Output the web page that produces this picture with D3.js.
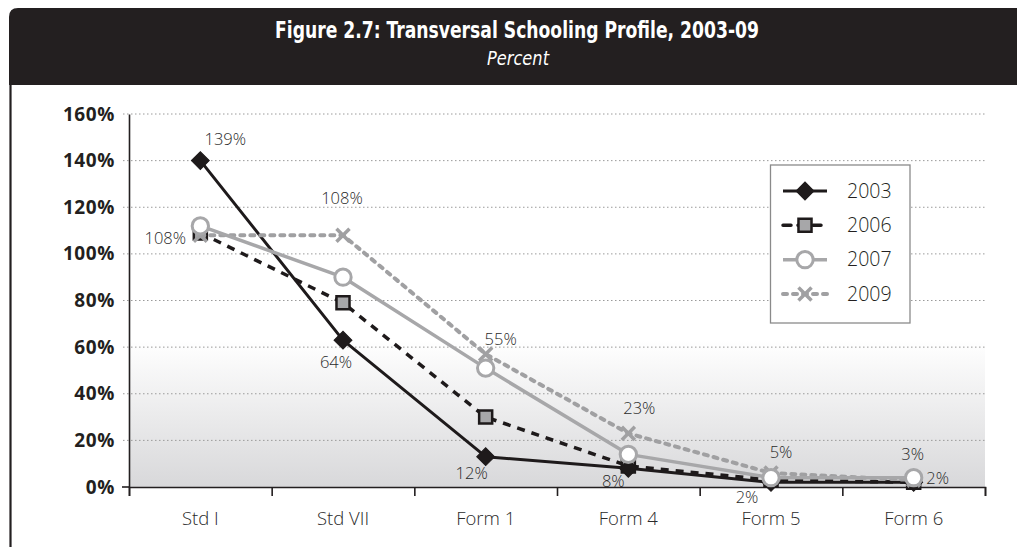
<!DOCTYPE html>
<html>
<head>
<meta charset="utf-8">
<script src="https://cdn.jsdelivr.net/npm/d3@7"></script>
<style>
  body { margin: 0; background: #fff; }
  svg { display: block; }
</style>
</head>
<body>
<svg id="chart" width="1017" height="547"></svg>
<script>
// chart data
var categories = ["Std I", "Std VII", "Form 1", "Form 4", "Form 5", "Form 6"];
var years = ["2003", "2006", "2007", "2009"];
var s2003 = [1.40, 0.63, 0.13, 0.08, 0.02, 0.02];
var s2006 = [1.09, 0.79, 0.30, 0.09, 0.03, 0.02];
var s2007 = [1.12, 0.90, 0.51, 0.14, 0.04, 0.04];
var s2009 = [1.08, 1.08, 0.57, 0.23, 0.06, 0.03];
var yTicks = [0, 0.2, 0.4, 0.6, 0.8, 1.0, 1.2, 1.4, 1.6];

// data labels shown on the chart (series, category index, text)
var labelSeries = ["2003", "2009", "2009", "2003", "2003", "2009", "2009", "2003", "2009", "2003", "2009", "2003"];
var labelIndex  = [0, 0, 1, 1, 2, 2, 3, 3, 4, 4, 5, 5];
var labelText   = ["139%", "108%", "108%", "64%", "12%", "55%", "23%", "8%", "5%", "2%", "3%", "2%"];

// where each label sits relative to its marker
var labelOffset = [[25, -21], [-35, 3], [-1, -37], [-7, 22], [-14, 17], [15, -15],
                   [11, -25], [-15, 13], [10, -21], [-24, 15], [-1, -26], [24, -4]];

var seriesValues = { "2003": s2003, "2006": s2006, "2007": s2007, "2009": s2009 };

var plot = { left: 129, right: 985, top: 114, bottom: 487 };

var svg = d3.select("#chart");

var x = d3.scaleBand().domain(categories).range([plot.left, plot.right]);
var y = d3.scaleLinear().domain([0, 1.6]).range([plot.bottom, plot.top]);
function cx(i) { return x(categories[i]) + x.bandwidth() / 2; }

// header bar
var hdr = d3.path();
hdr.moveTo(9, 85);
hdr.lineTo(9, 17);
hdr.quadraticCurveTo(9, 8, 18, 8);
hdr.lineTo(1017, 8);
hdr.lineTo(1017, 85);
hdr.closePath();
svg.append("path").attr("d", hdr.toString()).attr("fill", "#231f20");

svg.append("line")
  .attr("x1", 10.5).attr("x2", 10.5).attr("y1", 85).attr("y2", 547)
  .attr("stroke", "#231f20").attr("stroke-width", 2.2);

svg.append("text")
  .attr("x", 517).attr("y", 38)
  .attr("text-anchor", "middle")
  .attr("textLength", 484).attr("lengthAdjust", "spacingAndGlyphs")
  .style("font-family", "'Liberation Sans Narrow', 'DejaVu Sans Condensed', sans-serif")
  .style("font-weight", "bold").style("font-size", "23px")
  .attr("fill", "#fff")
  .text("Figure 2.7: Transversal Schooling Profile, 2003-09");

svg.append("text")
  .attr("x", 518).attr("y", 65)
  .attr("text-anchor", "middle")
  .attr("textLength", 62).attr("lengthAdjust", "spacingAndGlyphs")
  .style("font-family", "'Liberation Sans Narrow', 'DejaVu Sans Condensed', sans-serif")
  .style("font-style", "italic").style("font-size", "20px")
  .attr("fill", "#fff")
  .text("Percent");

// gradient in lower part of plot
var defs = svg.append("defs");
var grad = defs.append("linearGradient").attr("id", "shade")
  .attr("x1", 0).attr("x2", 0).attr("y1", 0).attr("y2", 1);
grad.append("stop").attr("offset", "0%").attr("stop-color", "#ffffff");
grad.append("stop").attr("offset", "100%").attr("stop-color", "#d8d8da");

svg.append("rect")
  .attr("x", plot.left).attr("width", plot.right - plot.left)
  .attr("y", y(0.63)).attr("height", y(0) - y(0.63))
  .attr("fill", "url(#shade)");

// gridlines
svg.append("g").selectAll("line")
  .data(yTicks.filter(function(d) { return d > 0; }))
  .enter().append("line")
  .attr("x1", plot.left - 6).attr("x2", plot.right)
  .attr("y1", function(d) { return y(d); })
  .attr("y2", function(d) { return y(d); })
  .attr("stroke", "#9a9a9a").attr("stroke-width", 1)
  .attr("stroke-dasharray", "1.5,2.5");

// y axis
var yAxis = svg.append("g")
  .attr("transform", "translate(" + plot.left + ",0)")
  .call(d3.axisLeft(y).tickValues(yTicks).tickFormat(d3.format(".0%")).tickSize(0).tickPadding(14));
yAxis.select(".domain").attr("stroke", "#231f20").attr("stroke-width", 1.6);
yAxis.selectAll("text")
  .style("font-family", "'Open Sans', sans-serif")
  .style("font-weight", "bold").style("font-size", "19px")
  .style("letter-spacing", "0.6px")
  .attr("fill", "#231f20");

// x axis boundary ticks
var xb = d3.scaleLinear().domain([0, categories.length]).range([plot.left, plot.right]);
var xTicks = svg.append("g")
  .attr("transform", "translate(0," + plot.bottom + ")")
  .call(d3.axisBottom(xb).ticks(categories.length).tickSize(9).tickFormat(""));
xTicks.select(".domain").attr("stroke", "#231f20").attr("stroke-width", 1.6);
xTicks.selectAll(".tick line").attr("stroke", "#231f20").attr("stroke-width", 1.6);

svg.append("line")
  .attr("x1", plot.left - 7).attr("x2", plot.left)
  .attr("y1", plot.bottom).attr("y2", plot.bottom)
  .attr("stroke", "#231f20").attr("stroke-width", 1.6);

// x axis labels
var xAxis = svg.append("g")
  .attr("transform", "translate(0," + plot.bottom + ")")
  .call(d3.axisBottom(x).tickSize(0).tickPadding(25));
xAxis.select(".domain").remove();
xAxis.selectAll("text")
  .style("font-family", "'Open Sans', sans-serif")
  .style("font-weight", "300")
  .style("font-size", "18.5px")
  .attr("fill", "#2a2a2a");

// series styles
var crossSymbol = {
  draw: function(ctx, size) {
    var r = Math.sqrt(size) / 2;
    ctx.moveTo(-r, -r); ctx.lineTo(r, r);
    ctx.moveTo(-r, r); ctx.lineTo(r, -r);
  }
};

var styles = {
  "2003": { stroke: "#1e1a1b", width: 3, dash: null, cap: "butt",
            sym: d3.symbolSquare, size: 160, rot: 45, fill: "#1e1a1b", mstroke: "#1e1a1b", mwidth: 1 },
  "2006": { stroke: "#1e1a1b", width: 3.5, dash: "8,7", cap: "butt",
            sym: d3.symbolSquare, size: 170, rot: 0, fill: "#a7a7a9", mstroke: "#1e1a1b", mwidth: 2.5 },
  "2007": { stroke: "#a7a7a9", width: 3.5, dash: null, cap: "butt",
            sym: d3.symbolCircle, size: 210, rot: 0, fill: "#ffffff", mstroke: "#a7a7a9", mwidth: 3 },
  "2009": { stroke: "#a0a0a2", width: 4, dash: "4,6", cap: "round",
            sym: crossSymbol, size: 170, rot: 0, fill: "none", mstroke: "#a0a0a2", mwidth: 3.5 }
};

var drawOrder = ["2006", "2003", "2009", "2007"];

var line = d3.line()
  .x(function(d, i) { return cx(i); })
  .y(function(d) { return y(d); });

drawOrder.forEach(function(yr) {
  var st = styles[yr];
  var g = svg.append("g");
  g.append("path")
    .attr("d", line(seriesValues[yr]))
    .attr("fill", "none")
    .attr("stroke", st.stroke)
    .attr("stroke-width", st.width)
    .attr("stroke-dasharray", st.dash)
    .attr("stroke-linecap", st.cap)
    .attr("stroke-linejoin", "round");
  g.selectAll("path.mark")
    .data(seriesValues[yr])
    .enter().append("path")
    .attr("class", "mark")
    .attr("d", d3.symbol(st.sym, st.size))
    .attr("transform", function(d, i) {
      return "translate(" + cx(i) + "," + y(d) + ") rotate(" + st.rot + ")";
    })
    .attr("fill", st.fill)
    .attr("stroke", st.mstroke)
    .attr("stroke-width", st.mwidth);
});

// data labels
svg.append("g").selectAll("text")
  .data(labelText)
  .enter().append("text")
  .attr("x", function(d, k) { return cx(labelIndex[k]) + labelOffset[k][0]; })
  .attr("y", function(d, k) { return y(seriesValues[labelSeries[k]][labelIndex[k]]) + labelOffset[k][1]; })
  .attr("text-anchor", "middle")
  .attr("dy", "0.35em")
  .style("font-family", "'Open Sans', sans-serif")
  .style("font-weight", "300")
  .style("font-size", "16.5px")
  .attr("fill", "#2a2a2a")
  .text(function(d) { return d; });

// legend
var legend = svg.append("g");
legend.append("rect")
  .attr("x", 770.5).attr("y", 165).attr("width", 139.5).attr("height", 158)
  .attr("fill", "#fff").attr("stroke", "#8a8a8a").attr("stroke-width", 1.3);

var legendY = d3.scalePoint().domain(years).range([191, 294]);

years.forEach(function(yr) {
  var st = styles[yr];
  var ly = legendY(yr);
  legend.append("line")
    .attr("x1", 783).attr("x2", 827).attr("y1", ly).attr("y2", ly)
    .attr("stroke", st.stroke).attr("stroke-width", st.width)
    .attr("stroke-dasharray", st.dash)
    .attr("stroke-linecap", yr === "2006" || yr === "2009" ? "round" : st.cap);
  legend.append("path")
    .attr("d", d3.symbol(st.sym, st.size))
    .attr("transform", "translate(805," + ly + ") rotate(" + st.rot + ")")
    .attr("fill", st.fill)
    .attr("stroke", st.mstroke)
    .attr("stroke-width", st.mwidth);
  legend.append("text")
    .attr("x", 847).attr("y", ly).attr("dy", "0.35em")
    .style("font-family", "'Open Sans', sans-serif")
    .style("font-weight", "300")
    .style("font-size", "19.5px")
    .attr("fill", "#231f20")
    .text(yr);
});
</script>
</body>
</html>
